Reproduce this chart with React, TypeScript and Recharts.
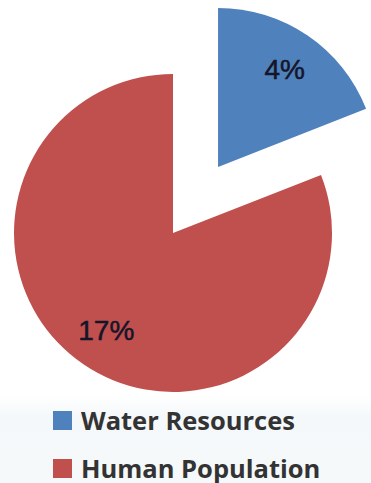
import React from "react";
import { PieChart, Pie, Cell, Legend } from "recharts";

const categories = ["Water Resources", "Human Population"];
const values = [4, 17];
const colors = ["#4f81bd", "#c0504d"];

const data = categories.map((name, i) => ({ name, value: values[i] }));

const W = 371;
const H = 483;
const CX = 173;
const CY = 233;
const R = 159;
const EXPLODE = 80;

const total = values.reduce((a, b) => a + b, 0);
const blueMid = ((values[0] / total) * 360) / 2; // degrees clockwise from 12 o'clock
const bx = CX + EXPLODE * Math.sin((blueMid * Math.PI) / 180);
const by = CY - EXPLODE * Math.cos((blueMid * Math.PI) / 180);

const makeLabel = (visibleIndex: number) => (props: any) => {
  const { cx, cy, midAngle, outerRadius, value, index } = props;
  if (index !== visibleIndex) return null;
  const rad = (Math.PI / 180) * midAngle;
  const r = outerRadius * 0.745;
  const x = cx + r * Math.cos(rad);
  const y = cy - r * Math.sin(rad);
  return (
    <text
      x={x}
      y={y}
      textAnchor="middle"
      dominantBaseline="central"
      fill="#15152a"
      stroke="#15152a"
      strokeWidth={0.5}
      fontSize={28}
      fontFamily="'Liberation Sans', Arial, sans-serif"
    >
      {`${value}%`}
    </text>
  );
};

const LegendContent = () => (
  <div style={{ display: "flex", flexDirection: "column" }}>
    {categories.map((c, i) => (
      <div
        key={c}
        style={{
          display: "flex",
          alignItems: "center",
          height: 30,
          marginBottom: i === 0 ? 18 : 0,
        }}
      >
        <span
          style={{
            display: "inline-block",
            width: 19,
            height: 19,
            background: colors[i],
            marginRight: 9,
            flexShrink: 0,
          }}
        />
        <span
          style={{
            fontFamily: "'Open Sans', sans-serif",
            fontWeight: 700,
            fontSize: 25.5,
            lineHeight: "30px",
            color: "#333333",
            whiteSpace: "nowrap",
          }}
        >
          {c}
        </span>
      </div>
    ))}
  </div>
);

export default function App() {
  return (
    <div
      style={{
        position: "absolute",
        left: 0,
        top: 0,
        width: W,
        height: H,
        background:
          "linear-gradient(to bottom, #ffffff 0%, #ffffff 82%, #f5f8fa 86%, #f6f9fa 100%)",
      }}
    >
      <PieChart width={W} height={H} margin={{ top: 0, right: 0, bottom: 0, left: 0 }}>
        <Pie
          data={data}
          dataKey="value"
          nameKey="name"
          cx={CX}
          cy={CY}
          outerRadius={R}
          startAngle={90}
          endAngle={-270}
          stroke="none"
          isAnimationActive={false}
          labelLine={false}
          label={makeLabel(1)}
        >
          {data.map((d, i) => (
            <Cell key={d.name} fill={i === 1 ? colors[i] : "none"} stroke="none" />
          ))}
        </Pie>
        <Pie
          data={data}
          dataKey="value"
          nameKey="name"
          cx={bx}
          cy={by}
          outerRadius={R}
          startAngle={90}
          endAngle={-270}
          stroke="none"
          isAnimationActive={false}
          labelLine={false}
          label={makeLabel(0)}
        >
          {data.map((d, i) => (
            <Cell key={d.name} fill={i === 0 ? colors[i] : "none"} stroke="none" />
          ))}
        </Pie>
        <Legend
          layout="horizontal"
          verticalAlign="bottom"
          align="left"
          wrapperStyle={{ position: "absolute", left: 53, top: 405, bottom: "auto", width: 318 }}
          content={<LegendContent />}
        />
      </PieChart>
    </div>
  );
}
